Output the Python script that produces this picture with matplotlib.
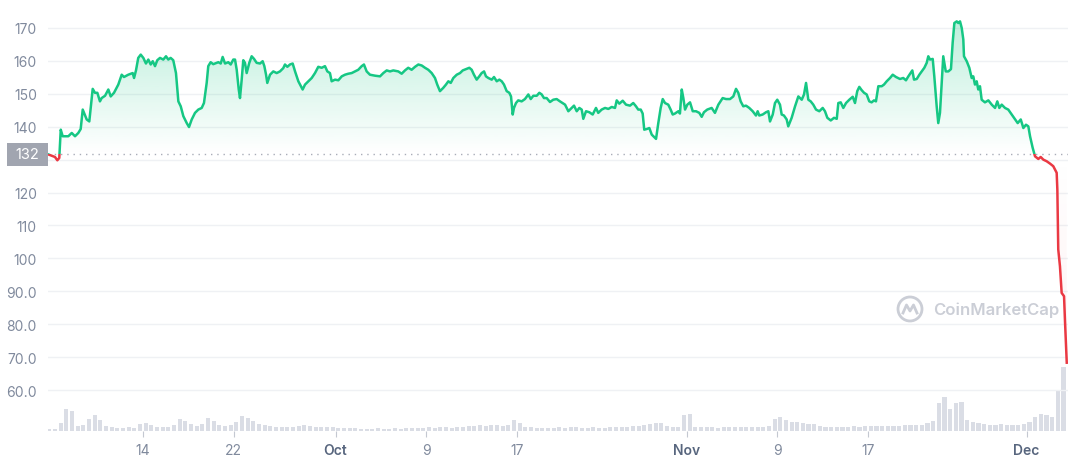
import matplotlib.pyplot as plt
import matplotlib.dates as mdates
import matplotlib.transforms as mtransforms
from matplotlib.patches import Rectangle, Ellipse
from matplotlib.path import Path
from matplotlib.colors import to_rgb
import numpy as np

plt.rcParams['font.family'] = ['Inter', 'DejaVu Sans']

# price history, days counted from 1 Sep
start = np.datetime64('2022-09-01')
days = [4.56, 4.95, 5.24, 5.45, 5.62, 5.75, 5.92, 6.42, 6.72, 7.01, 7.30, 7.51, 7.69, 8.04, 8.27,
        8.57, 8.77, 8.98, 9.21, 9.36, 9.66, 9.95, 10.16, 10.45, 10.83, 11.13, 11.33, 11.71, 12.10,
        12.22, 12.39, 12.59, 12.81, 13.04, 13.27, 13.48, 13.69, 13.87, 14.07, 14.27, 14.51, 14.80,
        15.04, 15.24, 15.45, 15.68, 15.92, 16.13, 16.34, 16.57, 16.87, 17.07, 17.31, 17.60, 17.89,
        18.19, 18.39, 18.63, 18.77, 18.98, 19.21, 19.51, 19.66, 19.87, 20.04, 20.25, 20.54, 20.75,
        20.98, 21.13, 21.28, 21.46, 21.57, 21.72, 21.86, 22.01, 22.16, 22.39, 22.60, 22.81, 23.04,
        23.34, 23.57, 23.72, 23.87, 23.98, 24.22, 24.51, 24.81, 25.10, 25.39, 25.54, 25.75, 25.98,
        26.22, 26.43, 26.72, 27.10, 27.31, 27.60, 27.90, 28.19, 28.48, 28.78, 29.07, 29.28, 29.51,
        29.66, 29.96, 30.25, 30.55, 30.84, 31.13, 31.43, 31.72, 32.01, 32.31, 32.51, 32.75, 33.04,
        33.49, 33.93, 34.22, 34.52, 34.81, 35.10, 35.54, 35.84, 36.13, 36.42, 36.72, 37.02, 37.31,
        37.61, 37.90, 38.19, 38.49, 38.78, 38.98, 39.22, 39.51, 39.75, 39.96, 40.17, 40.40, 40.70,
        40.99, 41.23, 41.52, 41.81, 42.02, 42.22, 42.46, 42.69, 42.90, 43.11, 43.28, 43.49, 43.79,
        43.99, 44.23, 44.46, 44.67, 44.87, 45.11, 45.34, 45.49, 45.64, 45.75, 45.93, 46.13, 46.43,
        46.72, 47.02, 47.23, 47.46, 47.76, 47.99, 48.20, 48.40, 48.64, 48.93, 49.22, 49.52, 49.81,
        50.26, 50.55, 50.85, 51.05, 51.29, 51.52, 51.73, 51.87, 52.11, 52.40, 52.70, 52.99, 53.19,
        53.49, 53.79, 54.08, 54.38, 54.67, 54.82, 55.05, 55.35, 55.64, 55.99, 56.28, 56.52, 56.72,
        56.94, 57.11, 57.25, 57.47, 57.70, 57.91, 58.29, 58.49, 58.70, 58.88, 59.08, 59.37, 59.58,
        59.76, 59.96, 60.26, 60.40, 60.56, 60.70, 60.85, 61.05, 61.29, 61.53, 61.82, 62.11, 62.32,
        62.52, 62.81, 63.20, 63.49, 63.79, 64.17, 64.47, 64.82, 65.11, 65.35, 65.55, 65.76, 65.99,
        66.23, 66.52, 66.82, 67.11, 67.26, 67.40, 67.70, 68.00, 68.20, 68.35, 68.59, 68.79, 68.99,
        69.23, 69.38, 69.58, 69.82, 69.96, 70.26, 70.56, 70.85, 71.15, 71.35, 71.53, 71.73, 71.94,
        72.17, 72.41, 72.70, 73.00, 73.20, 73.41, 73.71, 74.00, 74.24, 74.38, 74.59, 74.82, 75.06,
        75.35, 75.65, 75.85, 76.05, 76.23, 76.44, 76.65, 76.88, 77.11, 77.32, 77.53, 77.70, 77.91,
        78.21, 78.41, 78.65, 78.94, 79.18, 79.47, 79.82, 80.11, 80.35, 80.56, 80.91, 81.06, 81.30,
        81.53, 81.74, 81.97, 82.18, 82.32, 82.47, 82.71, 82.85, 83.06, 83.20, 83.35, 83.50, 83.64,
        83.86, 84.09, 84.32, 84.47, 84.62, 84.83, 84.97, 85.12, 85.27, 85.41, 85.47, 85.71, 85.94,
        86.15, 86.29, 86.44, 86.59, 86.73, 86.88, 87.03, 87.32, 87.62, 87.92, 88.21, 88.41, 88.59,
        88.80, 89.09, 89.38, 89.68, 89.97, 90.21, 90.48, 90.71, 90.94, 91.15, 91.30, 91.53, 91.74,
        92.03, 92.24, 92.47, 92.77, 93.06, 93.35, 93.50, 93.65, 93.71, 93.79, 93.94, 94.09, 94.30,
        94.39, 94.54]
price = [131.7, 131.2, 130.8, 129.8, 130.5, 139.1, 137.1, 137.1, 138.1, 137.1, 138.1, 139.3, 145.2,
         142.2, 141.6, 151.5, 150.3, 150.3, 147.7, 148.7, 149.4, 151.3, 149.2, 150.3, 152.8, 155.8,
         155.1, 155.8, 156.3, 154.8, 157.1, 160.9, 161.9, 160.9, 159.2, 160.4, 158.9, 159.9, 158.4,
         160.2, 160.9, 160.4, 161.4, 160.4, 160.9, 160.2, 156.3, 147.7, 146.2, 143.2, 141.1, 139.9,
         142.2, 144.2, 145.2, 145.7, 147.2, 153.3, 158.4, 159.6, 159.0, 159.4, 159.6, 159.2, 161.2,
         159.2, 159.6, 158.9, 160.4, 160.4, 157.3, 151.3, 148.7, 154.3, 160.2, 159.4, 156.3, 159.4,
         161.4, 160.6, 159.4, 159.2, 159.9, 158.4, 155.8, 153.3, 155.8, 156.8, 156.3, 156.8, 157.8,
         158.9, 158.2, 158.9, 159.2, 156.8, 153.8, 151.3, 152.8, 153.8, 154.8, 156.3, 158.2, 157.9,
         158.4, 156.8, 156.3, 153.8, 154.3, 154.1, 155.3, 155.8, 156.1, 156.3, 156.8, 157.3, 158.4,
         158.9, 156.8, 155.8, 155.5, 155.3, 156.3, 157.1, 156.8, 157.1, 156.8, 156.1, 157.1, 157.9,
         157.3, 158.2, 158.9, 158.6, 157.9, 157.3, 156.3, 154.8, 152.8, 150.8, 151.8, 152.8, 153.8,
         153.3, 154.8, 155.8, 156.3, 157.1, 157.5, 157.9, 157.3, 155.8, 154.3, 155.3, 156.3, 156.8,
         155.3, 154.8, 154.3, 155.1, 153.8, 154.3, 153.8, 152.8, 150.8, 150.3, 149.2, 143.7, 145.7,
         147.2, 148.0, 147.7, 148.4, 149.8, 148.4, 149.4, 149.4, 150.3, 149.8, 148.7, 148.7, 147.5,
         148.2, 148.4, 147.7, 146.7, 144.7, 145.7, 146.4, 144.7, 145.7, 145.2, 142.4, 144.7, 144.4,
         143.7, 145.7, 144.2, 145.2, 145.7, 145.4, 146.0, 145.7, 148.0, 147.0, 147.9, 146.7, 146.4,
         147.2, 146.2, 145.2, 145.2, 144.0, 139.1, 139.3, 139.6, 137.6, 136.3, 141.1, 145.7, 148.4,
         147.2, 146.7, 145.2, 143.7, 144.0, 144.7, 144.0, 151.3, 148.7, 145.2, 146.7, 147.4, 144.7,
         144.7, 144.2, 143.0, 144.4, 145.2, 145.7, 144.2, 146.7, 148.7, 148.4, 148.4, 149.2, 151.5,
         150.3, 147.7, 146.2, 146.4, 145.7, 144.7, 143.4, 144.7, 143.4, 143.7, 144.4, 144.7, 141.6,
         143.7, 147.2, 148.2, 146.7, 143.7, 143.4, 142.2, 140.1, 142.7, 146.2, 149.2, 148.2, 149.8,
         153.3, 148.2, 147.7, 146.7, 145.2, 144.7, 145.7, 144.7, 142.7, 141.9, 142.7, 142.4, 147.2,
         147.4, 145.7, 147.2, 148.2, 149.1, 147.2, 150.8, 152.1, 151.1, 150.3, 149.8, 147.7, 147.4,
         148.0, 147.7, 152.3, 152.3, 152.8, 153.8, 154.8, 155.8, 155.1, 154.5, 154.8, 154.1, 155.3,
         157.1, 154.3, 154.5, 155.8, 156.8, 157.9, 159.4, 161.4, 160.4, 160.6, 155.3, 146.2, 141.1,
         144.2, 153.3, 161.4, 156.8, 156.8, 157.5, 165.5, 171.5, 172.0, 171.5, 172.0, 170.0, 166.5,
         161.4, 159.9, 157.9, 154.8, 155.3, 152.8, 153.8, 151.3, 152.3, 148.2, 147.4, 148.0, 146.7,
         145.7, 147.7, 145.7, 146.7, 145.7, 145.2, 143.7, 142.2, 141.1, 142.2, 139.6, 140.6, 140.1,
         137.1, 133.6, 131.0, 130.2, 130.8, 130.0, 129.5, 128.8, 128.0, 127.0, 126.0, 120.9, 102.7,
         97.6, 89.5, 88.5, 80.5, 68.3]

# volume, one bar per half day (arbitrary units)
vol_first_day = 4.75
volume = [2, 2, 8, 22, 20, 5, 6, 12, 16, 11,
          5, 4, 3, 3, 4, 3, 7, 8, 6, 4,
          4, 4, 6, 12, 10, 7, 5, 7, 13, 10,
          6, 5, 6, 9, 15, 13, 10, 7, 6, 5,
          4, 4, 4, 4, 5, 6, 5, 4, 4, 4,
          4, 3, 3, 3, 3, 2, 2, 2, 3, 2,
          2, 3, 2, 3, 3, 3, 3, 4, 3, 4,
          4, 3, 4, 4, 5, 5, 6, 5, 6, 6,
          5, 6, 11, 8, 4, 4, 3, 3, 3, 3,
          4, 3, 4, 4, 3, 3, 4, 3, 3, 4,
          4, 4, 4, 5, 5, 6, 7, 8, 8, 5,
          4, 4, 16, 17, 4, 4, 4, 4, 3, 4,
          4, 4, 4, 4, 4, 4, 4, 5, 12, 14,
          11, 9, 9, 8, 7, 7, 5, 4, 4, 4,
          4, 4, 5, 4, 5, 5, 5, 5, 5, 5,
          5, 6, 6, 6, 6, 8, 10, 28, 34, 22,
          28, 29, 11, 9, 8, 7, 6, 6, 7, 6,
          6, 6, 7, 9, 14, 17, 16, 14, 40, 64]

ytick_vals = [60, 70, 80, 90, 100, 110, 120, 130, 140, 150, 160, 170]
ytick_text = ['60.0', '70.0', '80.0', '90.0', '100', '110', '120', '', '140', '150', '160', '170']
xtick_dates = ['2022-09-14', '2022-09-22', '2022-10-01', '2022-10-09', '2022-10-17',
               '2022-11-01', '2022-11-09', '2022-11-17', '2022-12-01']
xtick_text = ['14', '22', 'Oct', '9', '17', 'Nov', '9', '17', 'Dec']

GREEN = '#16c784'
RED = '#ea3943'
LABEL = '#808a9d'

t0 = mdates.date2num(start)
t = t0 + np.array(days)
p = np.array(price)
base = p[0]
xmin, xmax = t0 + 4.625, t0 + 94.65
ymin, ymax = 47.7, 178.8

fig = plt.figure(figsize=(10.68, 4.6), dpi=100)
left = 48 / 1068
bottom = 28.5 / 460
axv = fig.add_axes([left, bottom, 1 - left, 66.5 / 460])
ax = fig.add_axes([left, bottom, 1 - left, 1 - bottom])
ax.patch.set_alpha(0)

# volume bars
vt = t0 + vol_first_day + 0.5 * np.arange(len(volume))
axv.bar(vt, volume, width=0.36, color='#dadde5', align='center')
axv.set_xlim(xmin, xmax)
axv.set_ylim(0, 66.5)
axv.axis('off')

# gradient fill between line and the opening price
fill = ax.fill_between(t, p, base, facecolor='none', edgecolor='none')
clip = Path.make_compound_path(*fill.get_paths())
grad = np.zeros((256, 1, 4))
grad[..., :3] = to_rgb(GREEN)
grad[:, 0, 3] = np.linspace(0.0, 0.3, 256)
im = ax.imshow(grad, origin='lower', extent=[xmin, xmax, base, 175], aspect='auto', zorder=2)
im.set_clip_path(clip, transform=ax.transData)
gradr = np.zeros((256, 1, 4))
gradr[..., :3] = to_rgb(RED)
gradr[:, 0, 3] = np.linspace(0.07, 0.0, 256)
imr = ax.imshow(gradr, origin='lower', extent=[xmin, xmax, 65, base], aspect='auto', zorder=2)
imr.set_clip_path(clip, transform=ax.transData)

# price line, green above the opening price and red below it
lg, = ax.plot(t, p, color=GREEN, lw=1.8, zorder=4, solid_joinstyle='round')
lr, = ax.plot(t, p, color=RED, lw=1.8, zorder=4, solid_joinstyle='round')
lg.set_clip_path(Rectangle((xmin, base), xmax - xmin, 200, transform=ax.transData))
lr.set_clip_path(Rectangle((xmin, 0), xmax - xmin, base, transform=ax.transData))

ax.axhline(base, color='#a9adb8', lw=1, ls=(0, (1, 3.5)), zorder=3)

ax.set_xlim(xmin, xmax)
ax.set_ylim(ymin, ymax)

ax.set_yticks(ytick_vals)
ax.set_yticklabels(ytick_text)
ax.yaxis.grid(True, color='#eff1f4', lw=1)
ax.set_axisbelow(True)
ax.tick_params(axis='y', length=0, pad=8, labelsize=10, labelcolor=LABEL)

ax.set_xticks(mdates.date2num(np.array(xtick_dates, dtype='datetime64[D]')))
ax.set_xticklabels(xtick_text)
ax.tick_params(axis='x', length=4, color='#c4c8d1', pad=5, labelsize=10, labelcolor=LABEL)
for lab in ax.get_xticklabels():
    if lab.get_text() in ('Oct', 'Nov', 'Dec'):
        lab.set_color('#58667e')
        lab.set_fontweight('semibold')

for s in ax.spines.values():
    s.set_visible(False)

# current-price tag on the left
blend = mtransforms.blended_transform_factory(ax.transAxes, ax.transData)
ax.add_patch(Rectangle((-41 / 1020, base - 3.5), 41 / 1020, 7.0, transform=blend,
                       facecolor='#a1a5b0', edgecolor='none', clip_on=False, zorder=5))
ax.text(-20.5 / 1020, base, f'{base:.0f}', transform=blend, ha='center', va='center',
        color='white', fontsize=10.5, clip_on=False, zorder=6)

# watermark
wm = '#cbced6'
cx, cy = (910 - 48) / 1020, 0.2816
ax.add_patch(Ellipse((cx, cy), 24 / 1020, 24 / 431.5, transform=ax.transAxes,
                     facecolor='none', edgecolor=wm, lw=2, zorder=1))
mx = cx + np.array([-7, -3.5, 0, 3.5, 7]) / 1020
my = cy + np.array([-4, 4, -2, 4, -4]) / 431.5
ax.plot(mx, my, color=wm, lw=2, transform=ax.transAxes, zorder=1, solid_joinstyle='round')
ax.text((933 - 48) / 1020, cy, 'CoinMarketCap', transform=ax.transAxes, ha='left', va='center',
        fontsize=12, color=wm, fontweight='semibold', zorder=1)

fig.savefig('out.png', dpi=100)
